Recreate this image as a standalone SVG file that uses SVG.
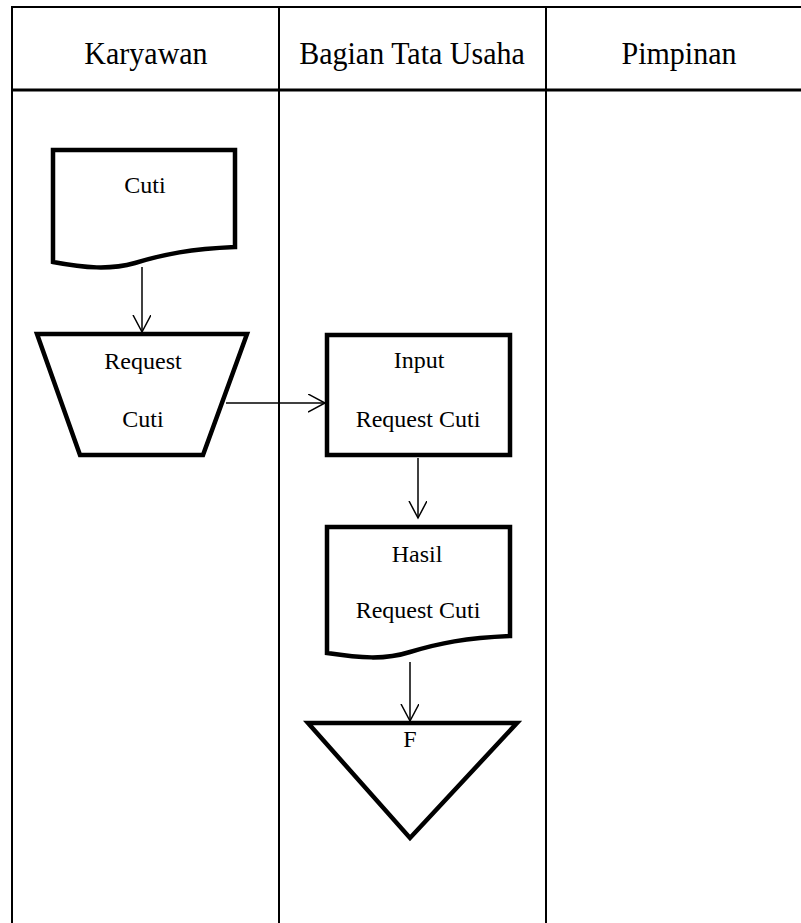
<svg xmlns="http://www.w3.org/2000/svg" width="801" height="923" viewBox="0 0 801 923">
  <style>
    .lane { stroke: #000; stroke-width: 2; fill: none; }
    .sep { stroke: #000; stroke-width: 3; fill: none; }
    .shape { stroke: #000; stroke-width: 4.5; fill: #fff; stroke-linejoin: miter; }
    .flow { stroke: #000; stroke-width: 1.5; fill: none; }
    .head { font-family: "Liberation Serif", "Times New Roman", serif; font-size: 30px; fill: #000; text-anchor: middle; }
    .lbl { font-family: "Liberation Serif", "Times New Roman", serif; font-size: 24px; fill: #000; text-anchor: middle; }
  </style>
  <defs>
    <marker id="arr" markerWidth="20" markerHeight="20" refX="17" refY="9" orient="auto" markerUnits="userSpaceOnUse">
      <path d="M0,0 L17,9 L0,18" fill="none" stroke="#000" stroke-width="1.5"/>
    </marker>
  </defs>
  <rect width="801" height="923" fill="#fff"/>

  <!-- swimlane table -->
  <g id="lanes">
    <line class="lane" x1="11" y1="7" x2="801" y2="7"/>
    <line class="sep" x1="11" y1="90" x2="801" y2="90"/>
    <line class="lane" x1="12" y1="6" x2="12" y2="923"/>
    <line class="lane" x1="279" y1="6" x2="279" y2="923"/>
    <line class="lane" x1="546" y1="6" x2="546" y2="923"/>
    <!-- lane titles, slightly tall glyphs -->
    <g transform="translate(0,64) scale(1,1.08)">
      <text class="head" x="146" y="0">Karyawan</text>
      <text class="head" x="412" y="0">Bagian Tata Usaha</text>
      <text class="head" x="679" y="0">Pimpinan</text>
    </g>
  </g>

  <!-- connectors -->
  <g id="connectors">
    <line class="flow" x1="142" y1="267" x2="142" y2="332" marker-end="url(#arr)"/>
    <line class="flow" x1="226" y1="403" x2="325" y2="403" marker-end="url(#arr)"/>
    <line class="flow" x1="418" y1="458" x2="418" y2="518" marker-end="url(#arr)"/>
    <line class="flow" x1="410" y1="662" x2="410" y2="721" marker-end="url(#arr)"/>
  </g>

  <g id="doc-cuti">
    <path class="shape" d="M53,150 L235,150 L235,247 C190,249 165,254 135,263 C110,270 85,268 53,262 Z"/>
    <text class="lbl" x="145" y="193">Cuti</text>
  </g>

  <g id="manual-request">
    <path class="shape" d="M37,334 L247,334 L203,455 L80,455 Z"/>
    <text class="lbl" x="143" y="369">Request</text>
    <text class="lbl" x="143" y="427">Cuti</text>
  </g>

  <g id="proc-input">
    <rect class="shape" x="327" y="335" width="183" height="120"/>
    <text class="lbl" x="419" y="368">Input</text>
    <text class="lbl" x="418" y="427">Request Cuti</text>
  </g>

  <g id="doc-hasil">
    <path class="shape" d="M327,527 L510,527 L510,636 C465,638 440,643 410,652 C385,660 360,658 327,653 Z"/>
    <text class="lbl" x="417" y="562">Hasil</text>
    <text class="lbl" x="418" y="618">Request Cuti</text>
  </g>

  <g id="file-f">
    <path class="shape" d="M308,723 L517,723 L410,838 Z"/>
    <text class="lbl" x="410" y="747">F</text>
  </g>
</svg>
